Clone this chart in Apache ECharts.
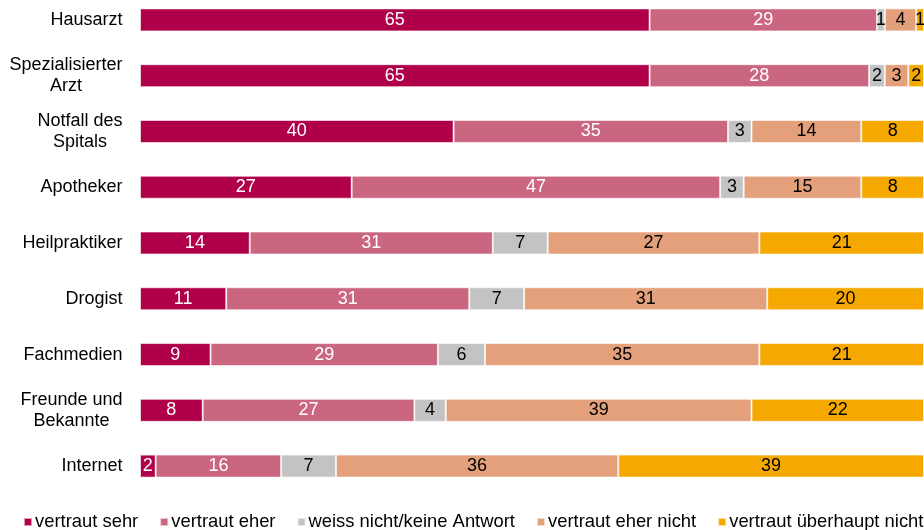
<!DOCTYPE html>
<html>
<head>
<meta charset="utf-8">
<script src="https://cdn.jsdelivr.net/npm/echarts@6/dist/echarts.min.js"></script>
<style>
  html, body { margin: 0; padding: 0; background: #fff; overflow: hidden; }
  body { position: relative; width: 924px; height: 530px; }
  #chart { position: absolute; left: 0; top: -8px; width: 924px; height: 538px; }
</style>
</head>
<body>
<div id="chart"></div>
<script>
// Vertrauen in Informationsquellen (Anteile in %)
const categories = [
  'Hausarzt',
  'Spezialisierter\nArzt',
  'Notfall des\nSpitals',
  'Apotheker',
  'Heilpraktiker',
  'Drogist',
  'Fachmedien',
  'Freunde und\nBekannte',
  'Internet'
];

const vertrautSehr       = [65, 65, 40, 27, 14, 11,  9,  8,  2];
const vertrautEher       = [29, 28, 35, 47, 31, 31, 29, 27, 16];
const weissNicht         = [ 1,  2,  3,  3,  7,  7,  6,  4,  7];
const vertrautEherNicht  = [ 4,  3, 14, 15, 27, 31, 35, 39, 36];
const vertrautUeberhaupt = [ 1,  2,  8,  8, 21, 20, 21, 22, 39];

const seriesDefs = [
  { name: 'vertraut sehr',             data: vertrautSehr,       color: '#B0004A', text: '#ffffff' },
  { name: 'vertraut eher',             data: vertrautEher,       color: '#CB6680', text: '#ffffff' },
  { name: 'weiss nicht/keine Antwort', data: weissNicht,         color: '#C3C3C3', text: '#000000' },
  { name: 'vertraut eher nicht',       data: vertrautEherNicht,  color: '#E4A07A', text: '#000000' },
  { name: 'vertraut überhaupt nicht',  data: vertrautUeberhaupt, color: '#F5A800', text: '#000000' }
];

const FONT = '"Liberation Sans", Arial, sans-serif';
const LABEL_SIZE = 18;

// Multi-line category labels: every line gets a box as wide as the
// widest line of its label, so the lines are centred under each other
// while the whole block stays right-aligned next to the bars.
const measureCtx = document.createElement('canvas').getContext('2d');
measureCtx.font = LABEL_SIZE + 'px ' + FONT;
const labelRich = {};
categories.forEach((c, i) => {
  const w = Math.max(...c.split('\n').map(l => measureCtx.measureText(l).width));
  labelRich['w' + i] = {
    width: Math.ceil(w),
    align: 'center',
    fontSize: LABEL_SIZE,
    lineHeight: 21,
    color: '#000000',
    fontFamily: FONT
  };
});

const chart = echarts.init(document.getElementById('chart'), null, { renderer: 'canvas' });

chart.setOption({
  animation: false,
  backgroundColor: '#ffffff',
  textStyle: { fontFamily: FONT },
  grid: { left: 140, right: 0, top: 0, height: 502, containLabel: false },
  xAxis: {
    type: 'value',
    min: 0,
    max: 100,
    show: false
  },
  yAxis: {
    type: 'category',
    data: categories,
    inverse: true,
    axisLine: { show: false },
    axisTick: { show: false },
    splitLine: { show: false },
    axisLabel: {
      margin: 17,
      color: '#000000',
      fontFamily: FONT,
      fontSize: LABEL_SIZE,
      lineHeight: 21,
      align: 'right',
      formatter: (v, i) => v.split('\n').map(l => '{w' + i + '|' + l + '}').join('\n'),
      rich: labelRich
    }
  },
  legend: {
    left: 23,
    top: 521,
    width: 1400,
    padding: 0,
    icon: 'rect',
    itemWidth: 8,
    itemHeight: 8,
    itemGap: 21,
    textStyle: { fontSize: 18.4, color: '#000000', fontFamily: FONT, padding: [0, 0, 0, -2] },
    data: seriesDefs.map(s => s.name)
  },
  series: seriesDefs.map(s => ({
    name: s.name,
    type: 'bar',
    stack: 'total',
    barWidth: 23,
    data: s.data,
    itemStyle: {
      color: s.color,
      borderColor: 'rgba(255,255,255,0.6)',
      borderWidth: 1
    },
    label: {
      show: true,
      position: 'inside',
      formatter: p => String(p.value),
      fontSize: 18,
      color: s.text,
      fontFamily: FONT
    }
  }))
});
</script>
</body>
</html>
